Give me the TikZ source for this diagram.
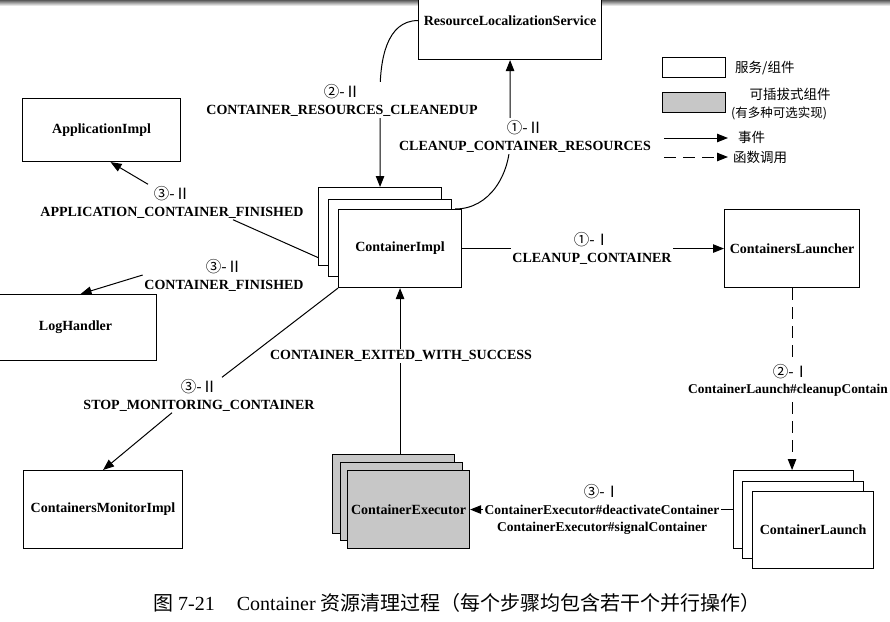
\documentclass[tikz,border=0pt]{standalone}
\usepackage{fontspec}
\setmainfont{Liberation Serif}
\newfontfamily\cjk{Noto Sans CJK SC}
\usetikzlibrary{arrows.meta}
\newcommand\stepmark[1]{{\cjk\mdseries\fontsize{15.5}{17}\selectfont #1}}
\tikzset{
  box/.style={draw, line width=1.1pt, fill=white, inner sep=0pt, anchor=north west,
    font=\bfseries\fontsize{14}{17}\selectfont},
  gbox/.style={box, fill=black!22},
  lbl/.style={fill=white, inner sep=1.5pt, align=center,
    font=\bfseries\fontsize{14}{17}\selectfont},
  ev/.style={line width=1pt, -{Triangle[length=11pt,width=8.5pt]}},
  fc/.style={ev, dash pattern=on 12pt off 7pt},
  cn/.style={line width=1pt},
  lgtext/.style={font=\cjk\fontsize{13.5}{16}\selectfont, inner sep=0pt}
}
\begin{document}
\begin{tikzpicture}[x=1pt,y=-1pt]
\useasboundingbox (0,0) rectangle (890,621);
\shade[top color=black!65, bottom color=black!10] (0,0) rectangle (890,5);

% boxes
\node[box, minimum width=183pt, minimum height=78pt] (rls) at (418,-19) {ResourceLocalizationService};
\node[box, minimum width=158pt, minimum height=63pt] (ai) at (22,98) {ApplicationImpl};
\node[box, minimum width=123pt, minimum height=78pt] (ci1) at (318,187) {};
\node[box, minimum width=123pt, minimum height=77pt] (ci2) at (328,199) {};
\node[box, minimum width=123pt, minimum height=78pt] (ci3) at (338,209) {ContainerImpl};
\node[box, minimum width=162pt, minimum height=66pt] (lh) at (-6,294) {LogHandler};
\node[box, minimum width=159pt, minimum height=78pt] (cmi) at (23,470) {ContainersMonitorImpl};
\node[box, minimum width=135pt, minimum height=78pt] (cls) at (724,209) {ContainersLauncher};
\node[gbox, minimum width=122pt, minimum height=79pt] (ce1) at (332,454) {};
\node[gbox, minimum width=122pt, minimum height=78pt] (ce2) at (340,462) {};
\node[gbox, minimum width=122pt, minimum height=78pt] (ce3) at (347,470) {ContainerExecutor};
\node[box, minimum width=120pt, minimum height=78pt] (cl1) at (733,470) {};
\node[box, minimum width=121pt, minimum height=77pt] (cl2) at (742,481) {};
\node[box, minimum width=121pt, minimum height=77pt] (cl3) at (752,491) {ContainerLaunch};

% legend
\node[box, minimum width=63pt, minimum height=20pt] (lg1) at (662,57) {};
\node[lgtext, anchor=west] (lg1t) at (735,68) {服务/组件};
\node[gbox, minimum width=63pt, minimum height=20pt] (lg2) at (662,92) {};
\node[lgtext] (lg2t) at (790,94) {可插拔式组件};
\node[lgtext, font=\cjk\fontsize{12.5}{15}\selectfont] (lg2u) at (779,113) {(有多种可选实现)};
\coordinate (lg3a) at (664,138);
\coordinate (lg3b) at (728,138);
\draw[ev] (lg3a) -- (lg3b);
\node[lgtext, anchor=west] (lg3t) at (738,137) {事件};
\coordinate (lg4a) at (664,157);
\coordinate (lg4b) at (728,157);
\draw[fc] (lg4a) -- (lg4b);
\node[lgtext, anchor=west] (lg4t) at (733,157) {函数调用};

% connectors drawn under labels
\draw[ev] ([xshift=-7pt]ci3.north east) to[out=0,in=-90] ([yshift=-80pt]rls.south) -- (rls.south);
\draw[ev] (rls.west) to[out=180,in=90] ([yshift=95pt]ci1.north) -- (ci1.north);
\draw[ev] (ci3.east) -- (cls.west);
\draw[fc] (cls.south) -- (cls.south |- cl1.north);
\draw[ev] (cl1.west) -- (ce3.east);
\draw[ev] (ci3.south |- ce1.north) -- (ci3.south);

% labels
\node[lbl] (lA) at (525,136) {\stepmark{①-Ⅱ}\\CLEANUP\_CONTAINER\_RESOURCES};
\node[lbl] (lB) at (342,100) {\stepmark{②-Ⅱ}\\CONTAINER\_RESOURCES\_CLEANEDUP};
\node[lbl] (lC) at (172,202) {\stepmark{③-Ⅱ}\\APPLICATION\_CONTAINER\_FINISHED};
\node[lbl] (lD) at (224,275) {\stepmark{③-Ⅱ}\\CONTAINER\_FINISHED};
\node[lbl] (lE) at (199,395) {\stepmark{③-Ⅱ}\\STOP\_MONITORING\_CONTAINER};
\node[lbl] (lF) at (592,248) {\stepmark{①-Ⅰ}\\CLEANUP\_CONTAINER};
\node[lbl, inner ysep=3pt] (lG1) at (791,372) {\stepmark{②-Ⅰ}};
\node[lbl, anchor=west, inner ysep=3pt, inner xsep=0pt, font=\bfseries\fontsize{13.4}{17}\selectfont] (lG2) at (688,390) {ContainerLaunch\#cleanupContain};
\node[lbl, font=\bfseries\fontsize{13.5}{17}\selectfont] (lH) at (602,509) {\stepmark{③-Ⅰ}\\ContainerExecutor\#deactivateContainer\\ContainerExecutor\#signalContainer};
\node[lbl] (lI) at (401,356) {CONTAINER\_EXITED\_WITH\_SUCCESS};

% connectors through label nodes
\draw[cn] ([yshift=-31pt]ci1.west) -- ([xshift=61pt]lC.south);
\draw[ev] ([xshift=-24pt]lC.north) -- ([xshift=9pt]ai.south);
\draw[ev] (lD.west) -- ([xshift=5pt]lh.north);
\draw[cn] (ci3.south west) -- ([xshift=23pt]lE.north);
\draw[ev] ([xshift=-27pt]lE.south) -- (cmi.north);

% caption
\node[font=\fontsize{20}{24}\selectfont] (cap) at (457,603)
  {{\cjk 图}~7-21\hspace{22pt}Container~{\cjk 资源清理过程（每个步骤均包含若干个并行操作）}};
\end{tikzpicture}
\end{document}
